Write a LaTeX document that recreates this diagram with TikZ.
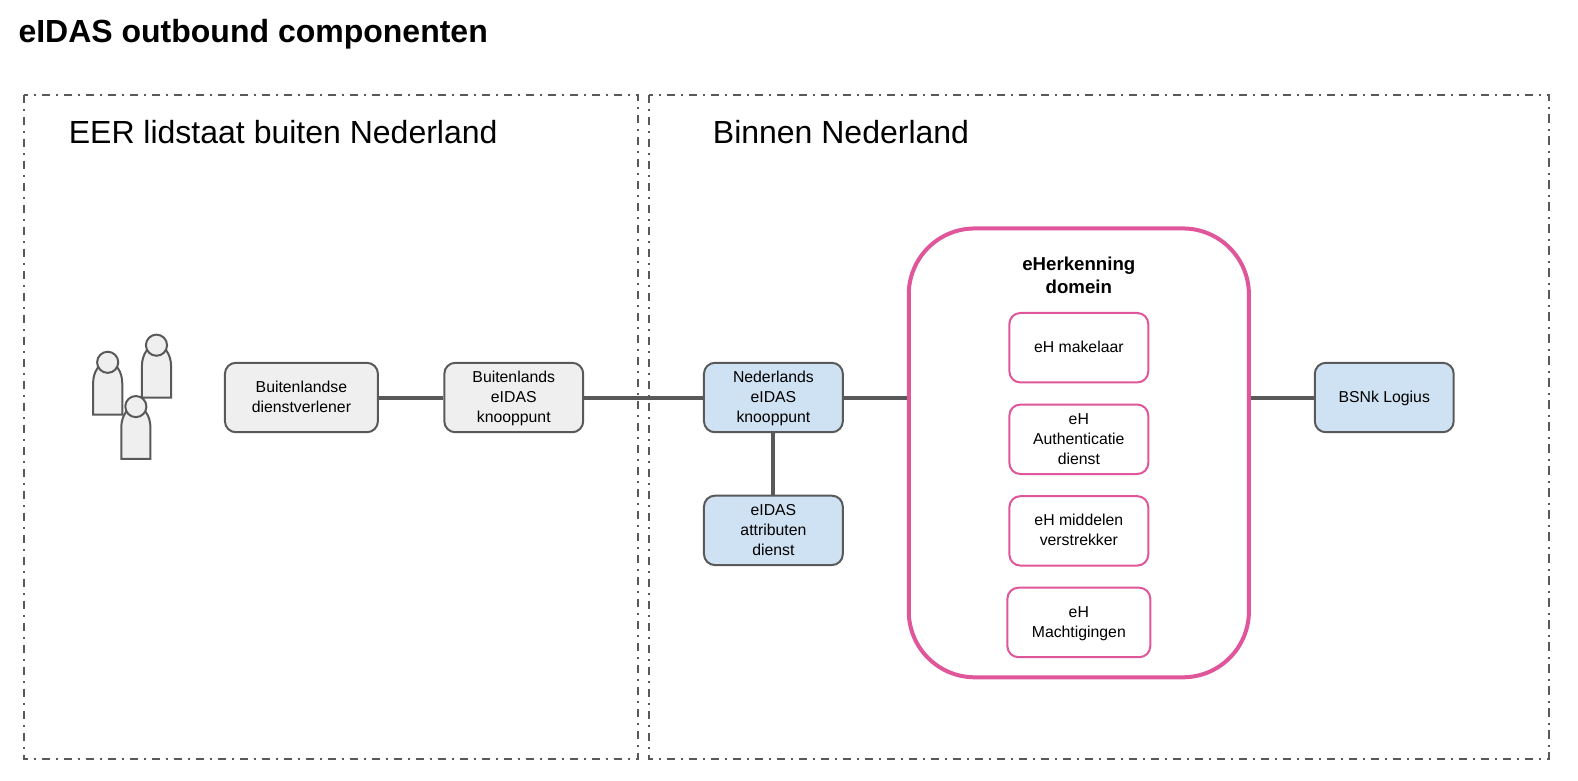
\documentclass[tikz,border=0pt]{standalone}
\usepackage{fontspec}
\setmainfont{Liberation Sans}
\definecolor{edge}{HTML}{595959}
\definecolor{pinkc}{HTML}{E0569A}
\definecolor{greyf}{HTML}{EFEFEF}
\definecolor{bluef}{HTML}{CFE2F3}
\newcommand{\boxat}[7]{% name, style, x0, y0, x1, y1, text
  \node[#2, minimum width=#5*0.5032pt-#3*0.5032pt, minimum height=#6*0.5032pt-#4*0.5032pt] (#1) at ({(#3+#5)/2},{(#4+#6)/2}) {\rule{0pt}{7pt}#7\rule[-2pt]{0pt}{2pt}};}
\newcommand{\person}[3]{% left x, bottom y, head centre y
  \draw[personline] (#1,#2) -- (#1,{#2-31}) .. controls (#1,{#2-43}) and ({#1+6.5},#3) .. ({#1+14.5},#3)
     .. controls ({#1+22.5},#3) and ({#1+29},{#2-43}) .. ({#1+29},{#2-31}) -- ({#1+29},#2) -- cycle;
  \draw[personline] ({#1+14.5},#3) circle[radius=10.5];}
\tikzset{
  frameline/.style={draw=edge, line width=0.95pt, dash pattern=on 4.2pt off 2.8pt on 1pt off 3pt},
  greybox/.style={draw=edge, fill=greyf, line width=1pt, rounded corners=5.5pt, align=center, font=\fontsize{7.9}{10}\selectfont, inner sep=0pt},
  bluebox/.style={greybox, fill=bluef},
  pinkbox/.style={draw=pinkc, fill=white, line width=1pt, rounded corners=5.5pt, align=center, font=\fontsize{7.9}{10}\selectfont, inner sep=0pt},
  domainbox/.style={draw=pinkc, fill=white, line width=2pt, rounded corners=33pt, inner sep=0pt},
  link/.style={draw=edge, line width=2pt},
  personline/.style={draw=edge, fill=greyf, line width=1pt},
  labeltext/.style={inner sep=0pt, anchor=base west},
}
\begin{document}
\begin{tikzpicture}[x=0.5032pt,y=-0.5032pt]
\useasboundingbox (0,0) rectangle (1568,776);
\node[labeltext, font=\fontsize{16}{19}\selectfont\bfseries] (title) at (18,42) {eIDAS outbound componenten};
\draw[frameline] (24,94) rectangle (634,754);
\draw[frameline] (645,94) rectangle (1539,754);
\node[labeltext, font=\fontsize{16}{20}\selectfont] (left) at (68,143) {EER lidstaat buiten Nederland};
\node[labeltext, font=\fontsize{16}{20}\selectfont] (right) at (708,143) {Binnen Nederland};
\person{92.5}{412}{360}
\person{141}{395}{343}
\person{120.5}{456}{404}
\boxat{bd}{greybox}{223.5}{360.5}{375.5}{429.5}{Buitenlandse\\dienstverlener}
\boxat{bk}{greybox}{441.5}{360.5}{579.5}{429.5}{Buitenlands\\eIDAS\\knooppunt}
\boxat{nk}{bluebox}{699.5}{360.5}{837.5}{429.5}{Nederlands\\eIDAS\\knooppunt}
\boxat{ad}{bluebox}{699.5}{492.5}{837.5}{561.5}{eIDAS\\attributen\\dienst}
\boxat{bsn}{bluebox}{1306.5}{360.5}{1444.5}{429.5}{BSNk Logius}
\boxat{dom}{domainbox}{903}{227}{1241}{673}{}
\node[font=\fontsize{9.33}{11.5}\selectfont\bfseries, align=center, inner sep=0pt] (domt) at (1072,274) {eHerkenning\\domein};
\boxat{m1}{pinkbox}{1003}{311}{1141}{380}{eH makelaar}
\boxat{m2}{pinkbox}{1003}{402}{1141}{471}{eH\\Authenticatie\\dienst}
\boxat{m3}{pinkbox}{1003}{493}{1141}{562}{eH middelen\\verstrekker}
\boxat{m4}{pinkbox}{1001}{584}{1143}{653}{eH\\Machtigingen}
\draw[link] (bd) -- (bk);
\draw[link] (bk) -- (nk);
\draw[link] (nk) -- (nk -| dom.west);
\draw[link] (dom.east |- bsn) -- (bsn);
\draw[link] (nk) -- (ad);
\end{tikzpicture}
\end{document}
